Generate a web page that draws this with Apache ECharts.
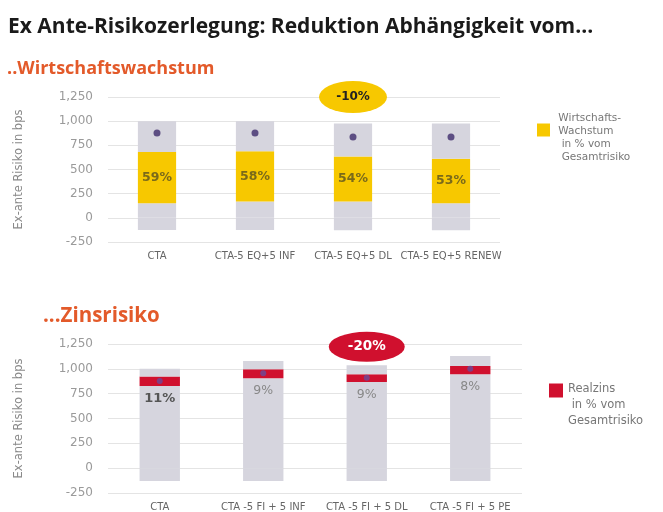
<!DOCTYPE html>
<html>
<head>
<meta charset="utf-8">
<script src="https://cdn.jsdelivr.net/npm/echarts@6/dist/echarts.min.js"></script>
<style>
  html, body { margin: 0; padding: 0; background: #fff; }
  #main { width: 663px; height: 512px; }
</style>
</head>
<body>
<div id="main"></div>
<script>
// top panel: Wirtschaftswachstum
var catsTop = ['CTA', 'CTA-5 EQ+5 INF', 'CTA-5 EQ+5 DL', 'CTA-5 EQ+5 RENEW'];
var totalTop = [1000, 1000, 976, 976];      // grey bar top
var lowTop = [-125, -125, -128, -128];      // grey bar bottom
var growthFrom = [150, 170, 170, 150];      // yellow segment start
var growthTo = [680, 690, 635, 611];        // yellow segment end
var growthPct = [59, 58, 54, 53];
var riskTop = [878, 878, 836, 837];         // dot
var badgeTop = '-10%';

// bottom panel: Zinsrisiko
var catsBot = ['CTA', 'CTA -5 FI + 5 INF', 'CTA -5 FI + 5 DL', 'CTA -5 FI + 5 PE'];
var totalBot = [1000, 1078, 1035, 1129];
var lowBot = [-128, -128, -128, -128];
var rateFrom = [827, 905, 867, 945];
var rateTo = [922, 995, 945, 1028];
var ratePct = [11, 9, 9, 8];
var riskBot = [877, 955, 911, 1002];
var badgeBot = '-20%';

var yTicks = [-250, 0, 250, 500, 750, 1000, 1250];

var GREY = '#d6d5de';
var YELLOW = '#f7c800';
var RED = '#d0102e';
var FONT = 'DejaVu Sans';

var chart = echarts.init(document.getElementById('main'));

function fmt(v) {
    return v.toLocaleString('en-US');
}

function diff(a, b) {
    var out = [];
    for (var i = 0; i < a.length; i++) out.push(a[i] - b[i]);
    return out;
}

function yAxis(idx) {
    return {
        type: 'value',
        gridIndex: idx,
        min: yTicks[0],
        max: yTicks[yTicks.length - 1],
        interval: 250,
        name: 'Ex-ante Risiko in bps',
        nameLocation: 'middle',
        nameGap: 83,
        nameTextStyle: { color: '#8a8a8a', fontSize: 11.5, fontFamily: FONT },
        axisLine: { show: false },
        axisTick: { show: false },
        axisLabel: {
            color: '#9a9a9a', fontSize: 12, margin: 15, fontFamily: FONT,
            formatter: function (v) { return fmt(v); }
        },
        splitLine: { lineStyle: { color: '#e4e4e4', width: 1 } }
    };
}

function xAxis(idx, cats) {
    return {
        type: 'category',
        gridIndex: idx,
        data: cats,
        axisLine: { show: false },
        axisTick: { show: false },
        axisLabel: { color: '#666', fontSize: 10, margin: 9, fontFamily: FONT, interval: 0 }
    };
}

function greyBar(name, idx, data) {
    return {
        name: name, type: 'bar', stack: 's' + idx,
        xAxisIndex: idx, yAxisIndex: idx,
        barWidth: '39%', silent: true,
        itemStyle: { color: GREY },
        data: data
    };
}

var pctBotData = ratePct.map(function (p, i) {
    return {
        value: rateTo[i] - rateFrom[i],
        label: i === 0
            ? { fontWeight: 'bold', color: '#555', fontSize: 13 }
            : { fontWeight: 'normal', color: '#888', fontSize: 12.5 }
    };
});

var option = {
    animation: false,
    backgroundColor: '#fff',
    title: [{
        text: 'Ex Ante-Risikozerlegung: Reduktion Abhängigkeit vom...',
        left: 3, top: 12,
        textStyle: { fontSize: 21, fontWeight: 'bold', color: '#1a1a1a', fontFamily: 'Open Sans' }
    }, {
        text: '..Wirtschaftswachstum',
        left: 2, top: 55,
        textStyle: { fontSize: 18, fontWeight: 'bold', color: '#e35a2a', fontFamily: 'Open Sans' }
    }, {
        text: '...Zinsrisiko',
        left: 38, top: 301,
        textStyle: { fontSize: 20.5, fontWeight: 'bold', color: '#e35a2a', fontFamily: 'Open Sans' }
    }],
    legend: [{
        data: ['Wirtschaftswachstum'],
        selectedMode: false,
        left: 537, top: 96, padding: 0,
        itemWidth: 13, itemHeight: 13,
        icon: 'rect',
        formatter: function () { return '{sp| }\n{t| Wirtschafts-}\n{t| Wachstum}\n{t|  in % vom}\n{t|  Gesamtrisiko}'; },
        textStyle: {
            color: '#777', fontSize: 10.5, fontFamily: FONT,
            rich: {
                sp: { height: 16, lineHeight: 16, fontSize: 10.5 },
                t: { height: 13, lineHeight: 13, fontSize: 10.5, color: '#777', fontFamily: FONT }
            }
        }
    }, {
        data: ['Realzins'],
        selectedMode: false,
        left: 549, top: 352, padding: 0,
        itemWidth: 14, itemHeight: 14,
        icon: 'rect',
        formatter: function () { return '{sp| }\n{t|Realzins}\n{t| in % vom}\n{t|Gesamtrisiko}'; },
        textStyle: {
            color: '#777', fontSize: 11.5, fontFamily: FONT,
            rich: {
                sp: { height: 29, lineHeight: 29, fontSize: 11.5 },
                t: { height: 16, lineHeight: 16, fontSize: 11.5, color: '#777', fontFamily: FONT }
            }
        }
    }],
    grid: [
        { left: 108, right: 163, top: 97, height: 145 },
        { left: 108, right: 141, top: 344, height: 149 }
    ],
    xAxis: [xAxis(0, catsTop), xAxis(1, catsBot)],
    yAxis: [yAxis(0), yAxis(1)],
    series: [
        greyBar('neg0', 0, lowTop),
        greyBar('base0', 0, growthFrom),
        {
            name: 'Wirtschaftswachstum', type: 'bar', stack: 's0',
            xAxisIndex: 0, yAxisIndex: 0, barWidth: '39%',
            itemStyle: { color: YELLOW },
            label: {
                show: true, position: 'inside',
                fontSize: 12.5, fontWeight: 'bold', color: '#7a6a1a', fontFamily: FONT,
                formatter: function (p) { return growthPct[p.dataIndex] + '%'; }
            },
            data: diff(growthTo, growthFrom)
        },
        greyBar('rest0', 0, diff(totalTop, growthTo)),
        {
            name: 'risk0', type: 'scatter', xAxisIndex: 0, yAxisIndex: 0,
            symbolSize: 7, itemStyle: { color: '#3f2c6b' },
            data: riskTop,
            markPoint: {
                symbol: 'circle', symbolSize: [68, 32],
                itemStyle: { color: YELLOW },
                label: { show: true, formatter: badgeTop, color: '#222', fontWeight: 'bold', fontSize: 12, fontFamily: FONT },
                data: [{ coord: [catsTop[2], 1250] }]
            }
        },
        greyBar('neg1', 1, lowBot),
        greyBar('base1', 1, rateFrom),
        {
            name: 'Realzins', type: 'bar', stack: 's1',
            xAxisIndex: 1, yAxisIndex: 1, barWidth: '39%',
            itemStyle: { color: RED },
            label: {
                show: true, position: 'bottom', distance: 6, fontFamily: FONT,
                formatter: function (p) { return ratePct[p.dataIndex] + '%'; }
            },
            data: pctBotData
        },
        greyBar('rest1', 1, diff(totalBot, rateTo)),
        {
            name: 'risk1', type: 'scatter', xAxisIndex: 1, yAxisIndex: 1,
            symbolSize: 6, itemStyle: { color: '#6a4a9a' },
            data: riskBot,
            markPoint: {
                symbol: 'circle', symbolSize: [76, 30],
                itemStyle: { color: RED },
                label: { show: true, formatter: badgeBot, color: '#fff', fontWeight: 'bold', fontSize: 13.5, fontFamily: FONT },
                data: [{ coord: [catsBot[2], 1222] }]
            }
        }
    ]
};

chart.setOption(option);
</script>
</body>
</html>
